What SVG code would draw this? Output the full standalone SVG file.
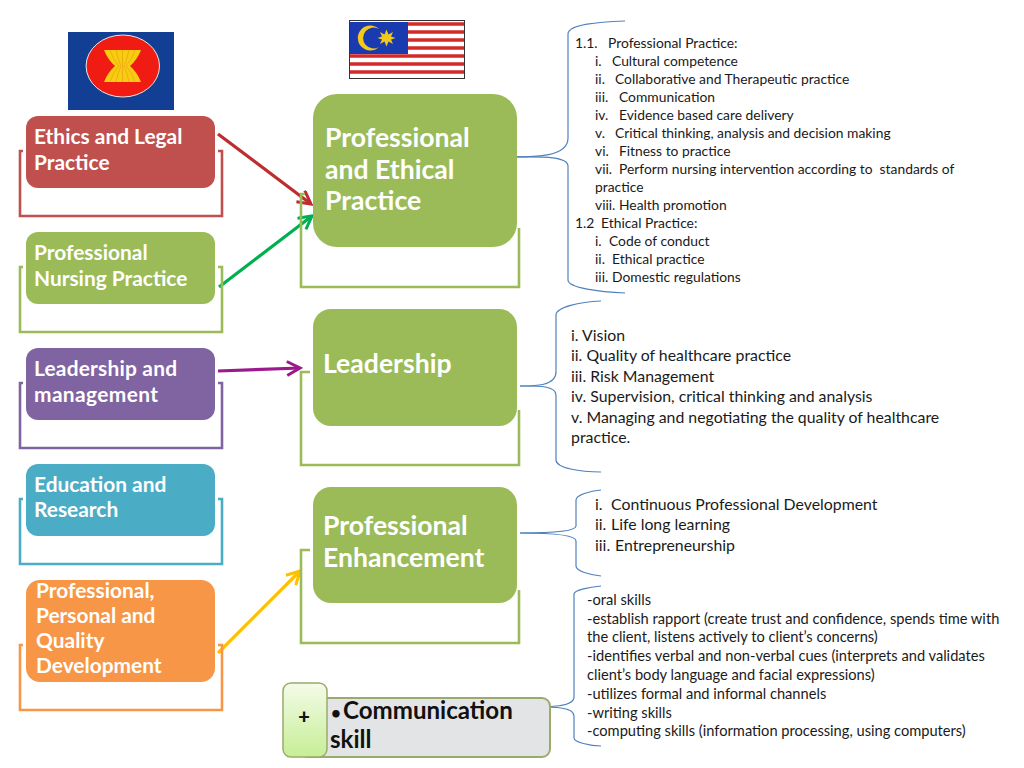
<svg xmlns="http://www.w3.org/2000/svg" width="1024" height="768" viewBox="0 0 1024 768">
<style>
text{font-family:Lato,"Liberation Sans",sans-serif}
.w{fill:#fff;font-weight:700}
.s{font-size:20.9px}
.b{font-size:26.6px}
.t{fill:#1a1a1a;font-size:13.85px}
.v{fill:#1a1a1a;font-size:14.65px}
.u{fill:#1a1a1a;font-size:15.85px}
.k{fill:#111;font-weight:700;font-size:24.1px}
.br{fill:none;stroke-width:2.6}
.c{fill:none;stroke:#4f81bd;stroke-width:1.2}
.a{fill:none;stroke-width:3.2}
</style>
<defs>
<marker id="mr" markerUnits="userSpaceOnUse" markerWidth="18" markerHeight="18" refX="15" refY="8" orient="auto"><path d="M2 1L15 8L2 15" fill="none" stroke="#be2d2d" stroke-width="3"/></marker>
<marker id="mg" markerUnits="userSpaceOnUse" markerWidth="18" markerHeight="18" refX="15" refY="8" orient="auto"><path d="M2 1L15 8L2 15" fill="none" stroke="#00b050" stroke-width="3"/></marker>
<marker id="mp" markerUnits="userSpaceOnUse" markerWidth="18" markerHeight="18" refX="15" refY="8" orient="auto"><path d="M2 1L15 8L2 15" fill="none" stroke="#9a1a8c" stroke-width="3"/></marker>
<marker id="my" markerUnits="userSpaceOnUse" markerWidth="18" markerHeight="18" refX="15" refY="8" orient="auto"><path d="M2 1L15 8L2 15" fill="none" stroke="#ffc000" stroke-width="3"/></marker>
<linearGradient id="pg" x1="0" y1="0" x2="0" y2="1"><stop offset="0" stop-color="#f4fbe8"/><stop offset="1" stop-color="#c6ee96"/></linearGradient>
</defs>

<g id="asean-flag">
<rect x="68" y="32" width="106" height="78" fill="#123f94"/>
<ellipse cx="122.800" cy="66" rx="36.700" ry="31" fill="#f01c14" stroke="#e8e8e8"/>
<path d="M104 50H141Q137 60 130 66Q137 72 141 82H104Q108 72 115 66Q108 60 104 50Z" fill="#f8cc10"/>
<path d="M110 50Q113 60 119 66Q113 72 110 82M116 50Q118 60 121 66Q118 72 116 82M122.500 50V82M129 50Q127 60 124 66Q127 72 129 82M135 50Q132 60 126 66Q132 72 135 82" fill="none" stroke="#e89a10" stroke-width=".6"/>
</g>

<g id="malaysia-flag">
<rect x="349.500" y="20.500" width="115" height="58" fill="#fff" stroke="#333"/>
<path d="M408 24H464M408 32H464M408 40H464M408 48H464M350 56H464M350 64H464M350 72H464" stroke="#d42a2a" stroke-width="3.600" fill="none"/>
<rect x="350" y="22" width="58" height="32" fill="#1a3bb0"/>
<path d="M379 29A12.500 12.500 0 1 0 379 47A10.500 10.500 0 1 1 379 29Z" fill="#f4c81a"/>
<path d="M386.500 29.500L388.500 34.500L393 32L391 36.500L395.500 38L391 39.500L393 44L388.500 41.500L386.500 46.500L384.500 41.500L380 44L382 39.500L377.500 38L382 36.500L380 32L384.500 34.500Z" fill="#f4c81a"/>
</g>

<g id="connectors">
<path class="c" d="M512 157C535 157 568 157 568 138V34C568 24 600 22 625 21"/>
<path class="c" d="M512 157C535 157 568 155 568 166V280C568 288 600 292 625 293"/>
<path class="c" d="M520 386C535 386 556 386 556 372V315C556 307 580 302 601 301"/>
<path class="c" d="M520 386C535 386 556 385 556 395V460C556 468 580 472 601 472"/>
<path class="c" d="M520 533C545 533 576 532 576 526V500C576 495 590 491 601 490"/>
<path class="c" d="M520 533C545 533 576 534 576 541V566C576 571 590 575 601 576"/>
<path class="c" d="M527 707C550 707 574 707 574 697V594C574 590 590 587 601 586"/>
<path class="c" d="M527 707C550 707 574 706 574 716V738C574 742 590 746 601 746"/>
<path class="a" stroke="#be2d2d" marker-end="url(#mr)" d="M218 134L311 204"/>
<path class="a" stroke="#00b050" marker-end="url(#mg)" d="M219 287L312 216"/>
<path class="a" stroke="#9a1a8c" marker-end="url(#mp)" d="M218 371L300 368"/>
<path class="a" stroke="#ffc000" marker-end="url(#my)" d="M218 653L300 571"/>
</g>

<g id="ethics">
<path class="br" stroke="#c0504d" d="M23 151H20V216H222V151H218"/>
<rect x="26" y="116" width="189" height="72" rx="12" fill="#c0504d"/>
<text class="w s" x="34" y="144">Ethics and Legal</text>
<text class="w s" x="34" y="170">Practice</text>
</g>
<g id="nursing">
<path class="br" stroke="#9bbb59" d="M23 267H20V332H222V267H218"/>
<rect x="26" y="232" width="189" height="72" rx="12" fill="#9bbb59"/>
<text class="w s" x="34" y="260">Professional</text>
<text class="w s" x="34" y="286">Nursing Practice</text>
</g>
<g id="leadership-management">
<path class="br" stroke="#8064a2" d="M23 383H20V448H222V383H218"/>
<rect x="26" y="348" width="189" height="72" rx="12" fill="#8064a2"/>
<text class="w s" x="34" y="376" textLength="143">Leadership and</text>
<text class="w s" x="34" y="402" textLength="124">management</text>
</g>
<g id="education">
<path class="br" stroke="#4bacc6" d="M23 499H20V564H222V499H218"/>
<rect x="26" y="464" width="189" height="72" rx="12" fill="#4bacc6"/>
<text class="w s" x="34" y="492">Education and</text>
<text class="w s" x="34" y="517">Research</text>
</g>
<g id="quality">
<path class="br" stroke="#f79646" d="M23 645H20V710H222V645H218"/>
<rect x="26" y="580" width="189" height="102" rx="14" fill="#f79646"/>
<text class="w s" x="36" y="598">Professional,</text>
<text class="w s" x="36" y="623">Personal and</text>
<text class="w s" x="36" y="648">Quality</text>
<text class="w s" x="36" y="673">Development</text>
</g>

<g id="professional-ethical">
<path class="br" stroke="#9bbb59" d="M305 194H301V287H519V228"/>
<rect x="313" y="94" width="204" height="153" rx="24" fill="#9bbb59"/>
<text class="w b" x="325" y="147">Professional</text>
<text class="w b" x="325" y="179">and Ethical</text>
<text class="w b" x="325" y="210">Practice</text>
</g>
<g id="leadership">
<path class="br" stroke="#9bbb59" d="M310 372H301V465H519V410"/>
<rect x="313" y="309" width="204" height="117" rx="18" fill="#9bbb59"/>
<text class="w b" x="323" y="373">Leadership</text>
</g>
<g id="enhancement">
<path class="br" stroke="#9bbb59" d="M310 550H301V643H519V590"/>
<rect x="313" y="487" width="204" height="116" rx="18" fill="#9bbb59"/>
<text class="w b" x="323" y="535">Professional</text>
<text class="w b" x="323" y="567">Enhancement</text>
</g>

<g id="communication">
<rect x="300" y="698" width="250" height="59" rx="8" fill="#e3e4e6" stroke="#9bab6c" stroke-width="2"/>
<rect x="283" y="683" width="44" height="74" rx="8" fill="url(#pg)" stroke="#9bab6c" stroke-width="1.500"/>
<text x="304" y="724" text-anchor="middle" font-size="20" font-weight="900" fill="#111">+</text>
<text class="k" x="331" y="719"><tspan font-size="17">•</tspan><tspan x="343">Communication</tspan></text>
<text class="k" x="330" y="748">skill</text>
</g>

<g id="detail-professional-ethical">
<text class="t" x="575" y="48">1.1.<tspan x="608">Professional Practice:</tspan></text>
<text class="t" x="595" y="66">i.<tspan x="612">Cultural competence</tspan></text>
<text class="t" x="595" y="84">ii.<tspan x="615">Collaborative and Therapeutic practice</tspan></text>
<text class="t" x="595" y="102">iii.<tspan x="619">Communication</tspan></text>
<text class="t" x="595" y="120">iv.<tspan x="619">Evidence based care delivery</tspan></text>
<text class="t" x="595" y="138">v.<tspan x="615">Critical thinking, analysis and decision making</tspan></text>
<text class="t" x="595" y="156">vi.<tspan x="619">Fitness to practice</tspan></text>
<text class="t" x="595" y="174" xml:space="preserve">vii.<tspan x="619">Perform nursing intervention according to  standards of</tspan></text>
<text class="t" x="595" y="192">practice</text>
<text class="t" x="595" y="210">viii.<tspan x="619">Health promotion</tspan></text>
<text class="t" x="575" y="228">1.2<tspan x="601">Ethical Practice:</tspan></text>
<text class="t" x="595" y="246">i.<tspan x="609">Code of conduct</tspan></text>
<text class="t" x="595" y="264">ii.<tspan x="612">Ethical practice</tspan></text>
<text class="t" x="595" y="282">iii.<tspan x="612">Domestic regulations</tspan></text>
</g>
<g id="detail-leadership">
<text class="u" x="571" y="341">i. Vision</text>
<text class="u" x="571" y="361">ii. Quality of healthcare practice</text>
<text class="u" x="571" y="382">iii. Risk Management</text>
<text class="u" x="571" y="402">iv. Supervision, critical thinking and analysis</text>
<text class="u" x="571" y="423">v. Managing and negotiating the quality of healthcare</text>
<text class="u" x="571" y="443">practice.</text>
</g>
<g id="detail-enhancement">
<text class="u" x="595" y="510">i.<tspan x="611">Continuous Professional Development</tspan></text>
<text class="u" x="595" y="530">ii.<tspan x="611">Life long learning</tspan></text>
<text class="u" x="595" y="551">iii.<tspan x="615">Entrepreneurship</tspan></text>
</g>
<g id="detail-communication">
<text class="v" x="587" y="605">-oral skills</text>
<text class="v" x="587" y="624">-establish rapport (create trust and confidence, spends time with</text>
<text class="v" x="587" y="642">the client, listens actively to client’s concerns)</text>
<text class="v" x="587" y="661">-identifies verbal and non-verbal cues (interprets and validates</text>
<text class="v" x="587" y="680">client’s body language and facial expressions)</text>
<text class="v" x="587" y="699">-utilizes formal and informal channels</text>
<text class="v" x="587" y="718">-writing skills</text>
<text class="v" x="587" y="736">-computing skills (information processing, using computers)</text>
</g>
</svg>
